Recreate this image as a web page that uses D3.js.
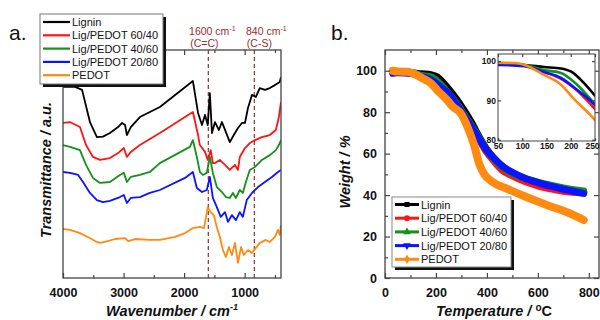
<!DOCTYPE html>
<html>
<head>
<meta charset="utf-8">
<script src="https://cdn.jsdelivr.net/npm/d3@7"></script>
<style>
  body { margin: 0; background: #fff; }
  svg text { font-family: Arial, "Liberation Sans", sans-serif; fill: #111; }
</style>
</head>
<body>
<svg id="chart" width="600" height="320"></svg>
<script>
// ---- data ----
const seriesNames = ['Lignin', 'Lig/PEDOT 60/40', 'Lig/PEDOT 40/60', 'Lig/PEDOT 20/80', 'PEDOT'];
const seriesColors = ['#000000', '#ff1414', '#13911a', '#0a14ff', '#ff8a12'];

// FTIR: [wavenumber cm-1, transmittance a.u. (stacked)]
const ftirLignin = [[4000,83.8],[3800,83.8],[3685,82.5],[3555,68.4],[3440,61.8],[3340,62],[3225,63.6],[3090,66.2],
  [3025,68.0],[2975,67.1],[2945,62.7],[2880,66.2],[2730,70.6],[2400,75.0],[1855,86.4],[1770,72.4],[1705,67.1],
  [1655,71.5],[1610,67.1],[1575,81.1],[1540,63.6],[1490,68.4],[1425,64.9],[1375,68.4],[1310,64.0],[1245,59.6],
  [1180,62.7],[1110,65.8],[1045,68.0],[995,68.0],[945,74.6],[880,80.3],[815,79.4],[750,83.3],[665,82.5],
  [585,83.3],[500,84.6],[420,86.0],[400,88.2]];
const ftirLig6040 = [[4000,68.0],[3885,68.4],[3720,66.2],[3620,58.3],[3505,53.1],[3390,51.8],[3225,52.6],[3090,54.8],
  [2995,57.0],[2945,53.1],[2880,55.3],[2730,58.3],[2400,63.6],[1855,72.8],[1770,62.7],[1740,58.3],[1655,55.3],
  [1610,51.8],[1560,56.1],[1525,50.4],[1490,50.4],[1410,51.8],[1325,49.6],[1245,47.4],[1160,49.6],[1110,47.4],
  [1080,53.1],[995,57.0],[915,59.2],[830,60.5],[715,61.8],[585,62.7],[485,64.9],[435,70.6],[400,77.2]];
const ftirLig4060 = [[4000,58.3],[3885,57.5],[3720,56.1],[3620,49.6],[3505,43.9],[3390,41.7],[3225,42.1],[3060,45.2],
  [2995,46.1],[2945,42.1],[2880,44.3],[2730,45.2],[2565,46.5],[2400,50.4],[1905,57.5],[1855,60.5],[1790,53.1],
  [1740,46.5],[1690,45.2],[1625,46.1],[1575,53.1],[1525,46.1],[1460,39.9],[1375,37.7],[1310,35.5],[1245,35.1],
  [1195,37.3],[1145,35.1],[1080,38.6],[1030,37.3],[980,42.1],[915,47.4],[830,48.7],[715,51.8],[585,53.9],
  [485,56.1],[435,58.3],[400,60.5]];
const ftirLig2080 = [[4000,46.5],[3885,46.1],[3750,45.2],[3670,42.1],[3555,37.3],[3440,34.2],[3340,33.3],[3225,33.8],
  [3060,35.5],[2995,36.4],[2945,32.9],[2880,35.1],[2730,35.5],[2565,37.3],[2400,38.6],[1985,43.9],[1855,46.5],
  [1790,39.5],[1705,37.7],[1625,38.6],[1575,44.3],[1525,35.1],[1460,31.1],[1395,26.8],[1325,28.9],[1275,24.6],
  [1210,27.6],[1145,25.4],[1080,28.9],[1030,26.8],[965,34.2],[880,37.3],[780,39.9],[665,42.1],[550,44.3],
  [450,46.5],[400,47.4]];
const ftirPedot = [[4000,21.5],[3885,21.1],[3720,19.7],[3590,18.0],[3440,15.8],[3390,15.4],[3305,15.8],[3140,17.1],
  [2975,17.5],[2925,16.2],[2810,17.1],[2565,16.7],[2400,16.7],[2150,18.0],[1985,19.7],[1855,21.9],[1740,22.4],
  [1670,21.9],[1610,31.1],[1560,28.9],[1510,27.6],[1460,22.4],[1410,18.0],[1360,12.3],[1310,9.2],[1260,13.6],
  [1210,10.1],[1160,15.4],[1110,6.6],[1060,13.6],[1015,10.1],[945,12.3],[880,11.0],[815,13.2],[750,15.4],
  [650,16.7],[585,15.8],[500,18.0],[450,21.1],[420,18.9],[400,23.2]];

// TGA: [temperature °C, weight %]
const tgaLignin = [[30,100],[50,99.5],[105,99],[145,98.5],[180,98.1],[205,97],[225,94.7],[250,91.2],[280,86.5],
  [310,81],[340,75],[370,68],[400,62],[430,57.5],[460,54],[500,50.5],[540,48],[600,45],[650,43.5],[700,42.2],[780,41.5]];
const tgaLig6040 = [[30,99.5],[50,99.5],[105,98.8],[145,97.2],[180,95.5],[213,92.5],[250,87.8],[280,83.5],[310,78],
  [340,72.5],[370,66.5],[400,60.5],[430,56],[460,52],[500,49.3],[540,47],[600,44.5],[650,43],[700,41.8],[780,41]];
const tgaLig4060 = [[30,99.5],[50,99.5],[105,99],[145,97.7],[180,97],[213,94],[250,89],[280,84.5],[310,79],
  [340,73.5],[370,67.5],[400,61.5],[430,57],[460,53.5],[500,50.5],[540,48.5],[600,46.3],[650,44.8],[700,43.5],[780,42]];
const tgaLig2080 = [[30,98.8],[50,99],[105,98.7],[145,97.2],[180,95.7],[213,92.7],[250,88.8],[280,84],[310,78.5],
  [340,73],[370,67],[400,61.5],[430,57.5],[460,54],[500,51],[540,48.6],[600,46],[650,44.3],[700,42.8],[780,40.8]];
const tgaPedot = [[30,100],[50,99.6],[85,99.5],[105,99],[145,96.5],[180,94],[205,90.6],[250,85],[263,83],[300,79],
  [330,71],[350,64],[370,55],[390,50],[420,46.5],[480,43],[560,38.8],[640,35],[720,31.5],[780,28]];

const ftirSeries = [ftirLignin, ftirLig6040, ftirLig4060, ftirLig2080, ftirPedot];
const tgaSeries = [tgaLignin, tgaLig6040, tgaLig4060, tgaLig2080, tgaPedot];

const ftirTicks = [4000, 3000, 2000, 1000];
const ftirMinor = [3500, 2500, 1500, 500];
const bandPositions = [1600, 840];
const bandLabels = ['1600 cm', '840 cm'];
const bandGroups = ['(C=C)', '(C-S)'];
const tgaTicksX = [0, 200, 400, 600, 800];
const tgaMinorX = [100, 300, 500, 700];
const tgaTicksY = [0, 20, 40, 60, 80, 100];
const tgaMinorY = [10, 30, 50, 70, 90];
const insetTicksX = [50, 100, 150, 200, 250];
const insetTicksY = [80, 90, 100];

const svg = d3.select('#chart');
const frameColor = '#444';
const defs = svg.append('defs');

function styleAxis(g, size) {
  g.select('.domain').remove();
  g.selectAll('.tick line').attr('stroke', frameColor).attr('stroke-width', 1.2);
  g.selectAll('.tick text').attr('font-size', size).attr('font-weight', 'bold').attr('fill', '#111');
}

// ---------- panel a: FTIR ----------
const xA = d3.scaleLinear().domain([4000, 400]).range([63, 281]);
const yA = d3.scaleLinear().domain([0, 100]).range([278, 50]);

defs.append('clipPath').attr('id', 'clipA')
  .append('rect').attr('x', 63).attr('y', 50).attr('width', 218).attr('height', 228);

// dashed band markers
svg.selectAll('.band').data(bandPositions).enter().append('line')
  .attr('class', 'band')
  .attr('x1', d => xA(d)).attr('x2', d => xA(d))
  .attr('y1', 50).attr('y2', 278)
  .attr('stroke', '#a03a44').attr('stroke-width', 1.3)
  .attr('stroke-dasharray', '4,3');

const lineA = d3.line().x(d => xA(d[0])).y(d => yA(d[1]));
svg.append('g').attr('clip-path', 'url(#clipA)')
  .selectAll('path').data(ftirSeries).enter().append('path')
  .attr('d', lineA)
  .attr('fill', 'none')
  .attr('stroke', (d, i) => seriesColors[i])
  .attr('stroke-width', 1.8)
  .attr('stroke-linejoin', 'round');

// bottom + top ticks (inward)
svg.append('g').attr('transform', 'translate(0,278)')
  .call(d3.axisBottom(xA).tickValues(ftirTicks).tickSize(-5).tickPadding(10).tickFormat(d3.format('d')))
  .call(g => styleAxis(g, '12.5px'));
svg.append('g').attr('transform', 'translate(0,278)')
  .call(d3.axisBottom(xA).tickValues(ftirMinor).tickSize(-3).tickFormat(''))
  .call(g => styleAxis(g, '12px'));
svg.append('g').attr('transform', 'translate(0,50)')
  .call(d3.axisTop(xA).tickValues(ftirTicks).tickSize(-5).tickFormat(''))
  .call(g => styleAxis(g, '12px'));
svg.append('g').attr('transform', 'translate(0,50)')
  .call(d3.axisTop(xA).tickValues(ftirMinor).tickSize(-3).tickFormat(''))
  .call(g => styleAxis(g, '12px'));

svg.append('rect').attr('x', 63).attr('y', 50).attr('width', 218).attr('height', 228)
  .attr('fill', 'none').attr('stroke', frameColor).attr('stroke-width', 1.3);

// band annotations
const labelShift = [4, 12];
const groupShift = [-4, 5];
bandPositions.forEach((b, i) => {
  const t = svg.append('text').attr('x', xA(b) + labelShift[i]).attr('y', 35)
    .attr('text-anchor', 'middle').attr('font-size', '10.5px').style('fill', '#9a2b33');
  t.append('tspan').text(bandLabels[i]);
  t.append('tspan').attr('dy', -4).attr('font-size', '7px').text('-1');
  svg.append('text').attr('x', xA(b) + groupShift[i]).attr('y', 47)
    .attr('text-anchor', 'middle').attr('font-size', '10.5px').style('fill', '#9a2b33')
    .text(bandGroups[i]);
});

// axis titles a
const xtA = svg.append('text').attr('x', 172).attr('y', 316).attr('text-anchor', 'middle')
  .attr('font-size', '14.5px').attr('font-weight', 'bold').attr('font-style', 'italic');
xtA.append('tspan').text('Wavenumber / cm');
xtA.append('tspan').attr('dy', -6).attr('font-size', '9px').text('-1');

svg.append('text').attr('transform', 'translate(51,170) rotate(-90)').attr('text-anchor', 'middle')
  .attr('font-size', '14.5px').attr('font-weight', 'bold').attr('font-style', 'italic')
  .text('Transmittance / a.u.');

svg.append('text').attr('x', 9).attr('y', 40).attr('font-size', '21px').text('a.');

// legend a
const legA = svg.append('g').attr('transform', 'translate(40,14)');
legA.append('rect').attr('x', 3).attr('y', 3).attr('width', 123).attr('height', 70).attr('fill', '#111');
legA.append('rect').attr('width', 123).attr('height', 70).attr('fill', '#fff')
  .attr('stroke', '#777').attr('stroke-width', 1);
seriesNames.forEach((name, i) => {
  const yy = 8 + i * 13.3;
  legA.append('line').attr('x1', 3).attr('x2', 30).attr('y1', yy).attr('y2', yy)
    .attr('stroke', seriesColors[i]).attr('stroke-width', 2.2);
  legA.append('text').attr('x', 32).attr('y', yy + 4).attr('font-size', '11px').text(name);
});

// ---------- panel b: TGA ----------
const xB = d3.scaleLinear().domain([0, 840]).range([385, 599]);
const yB = d3.scaleLinear().domain([0, 110]).range([278, 50]);

defs.append('clipPath').attr('id', 'clipB')
  .append('rect').attr('x', 385).attr('y', 50).attr('width', 214).attr('height', 228);

const lineB = d3.line().curve(d3.curveMonotoneX).x(d => xB(d[0])).y(d => yB(d[1]));
svg.append('g').attr('clip-path', 'url(#clipB)')
  .selectAll('path').data(tgaSeries).enter().append('path')
  .attr('d', lineB)
  .attr('fill', 'none')
  .attr('stroke', (d, i) => seriesColors[i])
  .attr('stroke-width', (d, i) => i === 4 ? 8 : 7)
  .attr('stroke-linecap', 'round').attr('stroke-linejoin', 'round');

svg.append('g').attr('transform', 'translate(0,278)')
  .call(d3.axisBottom(xB).tickValues(tgaTicksX).tickSize(-5).tickPadding(10))
  .call(g => styleAxis(g, '12.5px'));
svg.append('g').attr('transform', 'translate(0,278)')
  .call(d3.axisBottom(xB).tickValues(tgaMinorX).tickSize(-3).tickFormat(''))
  .call(g => styleAxis(g, '12px'));
svg.append('g').attr('transform', 'translate(0,50)')
  .call(d3.axisTop(xB).tickValues(tgaTicksX).tickSize(-5).tickFormat(''))
  .call(g => styleAxis(g, '12px'));
svg.append('g').attr('transform', 'translate(0,50)')
  .call(d3.axisTop(xB).tickValues(tgaMinorX).tickSize(-3).tickFormat(''))
  .call(g => styleAxis(g, '12px'));
svg.append('g').attr('transform', 'translate(385,0)')
  .call(d3.axisLeft(yB).tickValues(tgaTicksY).tickSize(-5).tickPadding(8))
  .call(g => styleAxis(g, '12.5px'));
svg.append('g').attr('transform', 'translate(385,0)')
  .call(d3.axisLeft(yB).tickValues(tgaMinorY).tickSize(-3).tickFormat(''))
  .call(g => styleAxis(g, '12px'));
svg.append('g').attr('transform', 'translate(599,0)')
  .call(d3.axisRight(yB).tickValues(tgaTicksY).tickSize(-5).tickFormat(''))
  .call(g => styleAxis(g, '12px'));

svg.append('rect').attr('x', 385).attr('y', 50).attr('width', 214).attr('height', 228)
  .attr('fill', 'none').attr('stroke', frameColor).attr('stroke-width', 1.3);

// inset
const xI = d3.scaleLinear().domain([50, 250]).range([498, 595]);
const yI = d3.scaleLinear().domain([79.7, 101.8]).range([141, 54]);
svg.append('rect').attr('x', 498).attr('y', 54).attr('width', 97).attr('height', 87).attr('fill', '#fff');
defs.append('clipPath').attr('id', 'clipI')
  .append('rect').attr('x', 498).attr('y', 54).attr('width', 97).attr('height', 87);
const lineI = d3.line().curve(d3.curveMonotoneX).x(d => xI(d[0])).y(d => yI(d[1]));
svg.append('g').attr('clip-path', 'url(#clipI)')
  .selectAll('path').data(tgaSeries).enter().append('path')
  .attr('d', lineI)
  .attr('fill', 'none')
  .attr('stroke', (d, i) => seriesColors[i])
  .attr('stroke-width', 2.6);
svg.append('g').attr('transform', 'translate(0,141)')
  .call(d3.axisBottom(xI).tickValues(insetTicksX).tickSize(-3).tickPadding(2))
  .call(g => styleAxis(g, '8.5px'))
  .call(g => g.selectAll('.tick text').filter(d => d === 250).attr('dx', -3));
svg.append('g').attr('transform', 'translate(0,54)')
  .call(d3.axisTop(xI).tickValues(insetTicksX).tickSize(-3).tickFormat(''))
  .call(g => styleAxis(g, '8px'));
svg.append('g').attr('transform', 'translate(498,0)')
  .call(d3.axisLeft(yI).tickValues(insetTicksY).tickSize(-3).tickPadding(2))
  .call(g => styleAxis(g, '8.5px'));
svg.append('g').attr('transform', 'translate(595,0)')
  .call(d3.axisRight(yI).tickValues(insetTicksY).tickSize(-3).tickFormat(''))
  .call(g => styleAxis(g, '8px'));
svg.append('rect').attr('x', 498).attr('y', 54).attr('width', 97).attr('height', 87)
  .attr('fill', 'none').attr('stroke', frameColor).attr('stroke-width', 1);

// axis titles b
const xtB = svg.append('text').attr('x', 494).attr('y', 316).attr('text-anchor', 'middle')
  .attr('font-size', '14.5px').attr('font-weight', 'bold').attr('font-style', 'italic');
xtB.append('tspan').text('Temperature / ');
xtB.append('tspan').attr('dy', -5).attr('font-size', '10px').attr('font-style', 'normal').text('o');
xtB.append('tspan').attr('dy', 5).attr('font-style', 'normal').text('C');

svg.append('text').attr('transform', 'translate(350,172) rotate(-90)').attr('text-anchor', 'middle')
  .attr('font-size', '14.5px').attr('font-weight', 'bold').attr('font-style', 'italic')
  .text('Weight / %');

svg.append('text').attr('x', 331).attr('y', 40).attr('font-size', '21px').text('b.');

// legend b
const symbols = [d3.symbolSquare, d3.symbolCircle, d3.symbolTriangle, d3.symbolTriangle, d3.symbolDiamond];
const legB = svg.append('g').attr('transform', 'translate(392,197)');
legB.append('rect').attr('x', 3).attr('y', 3).attr('width', 119).attr('height', 70).attr('fill', '#111');
legB.append('rect').attr('width', 119).attr('height', 70).attr('fill', '#fff')
  .attr('stroke', '#888').attr('stroke-width', 1);
seriesNames.forEach((name, i) => {
  const yy = 7.5 + i * 13.7;
  legB.append('line').attr('x1', 3).attr('x2', 27).attr('y1', yy).attr('y2', yy)
    .attr('stroke', seriesColors[i]).attr('stroke-width', 3);
  legB.append('path').attr('d', d3.symbol(symbols[i], 26)())
    .attr('transform', `translate(15,${yy})` + (i === 3 ? ' rotate(180)' : ''))
    .attr('fill', seriesColors[i]);
  legB.append('text').attr('x', 29).attr('y', yy + 4).attr('font-size', '11px').text(name);
});
</script>
</body>
</html>
